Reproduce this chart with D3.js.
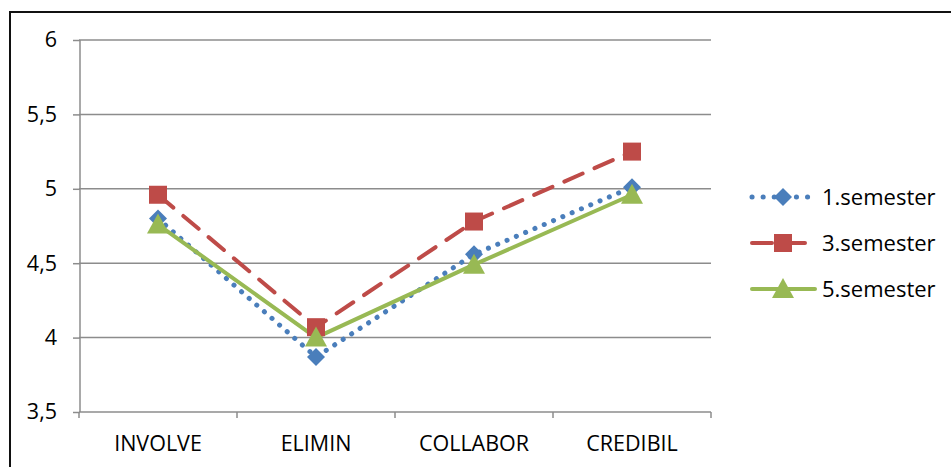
<!DOCTYPE html>
<html>
<head>
<meta charset="utf-8">
<script src="https://cdn.jsdelivr.net/npm/d3@7"></script>
<style>
  html, body { margin: 0; padding: 0; background: #fff; }
  svg { display: block; }
  text { font-family: "Open Sans", Lato, "Liberation Sans", sans-serif; fill: #000; }
</style>
</head>
<body>
<svg id="chart" width="951" height="467"></svg>
<script>
// Data
const categories = ["INVOLVE", "ELIMIN", "COLLABOR", "CREDIBIL"];
const sem1 = [4.80, 3.87, 4.56, 5.01];
const sem3 = [4.96, 4.07, 4.78, 5.25];
const sem5 = [4.76, 4.00, 4.49, 4.96];
const seriesNames = ["1.semester", "3.semester", "5.semester"];
const yTicks = [3.5, 4, 4.5, 5, 5.5, 6];

const series = [
  { name: seriesNames[0], values: sem1, color: "#4a7ebb", dash: "0.1 10", marker: "diamond" },
  { name: seriesNames[1], values: sem3, color: "#be4b48", dash: "20 13", marker: "square" },
  { name: seriesNames[2], values: sem5, color: "#98b954", dash: null, marker: "triangle" }
];

const FONT = "'Open Sans', Lato, sans-serif";
const FS = "21.5px";
const svg = d3.select("#chart");

// Outer frame
svg.append("rect")
  .attr("x", 10).attr("y", 12)
  .attr("width", 960).attr("height", 480)
  .attr("fill", "none").attr("stroke", "#111").attr("stroke-width", 2);

const plot = { left: 79, right: 711, top: 40, bottom: 412 };

const x = d3.scaleBand().domain(categories).range([plot.left, plot.right]).paddingInner(0).paddingOuter(0);
const y = d3.scaleLinear().domain([3.5, 6]).range([plot.bottom, plot.top]);
const cx = c => x(c) + x.bandwidth() / 2;

// Horizontal gridlines
svg.append("g").selectAll("line").data(yTicks.slice(1)).join("line")
  .attr("x1", plot.left).attr("x2", plot.right)
  .attr("y1", d => y(d)).attr("y2", d => y(d))
  .attr("stroke", "#8c8c8c").attr("stroke-width", 1.5);

// Y axis
const yAxis = d3.axisLeft(y).tickValues(yTicks).tickSize(7).tickPadding(16)
  .tickFormat(d => d3.format(".1~f")(d).replace(".", ","));
const gy = svg.append("g").attr("transform", `translate(${plot.left + 1},0)`).call(yAxis);
gy.select(".domain").attr("stroke", "#8c8c8c").attr("stroke-width", 1.5).attr("d", `M0,${plot.top}V${plot.bottom}`);
gy.selectAll(".tick line").attr("stroke", "#8c8c8c").attr("stroke-width", 1.5);
gy.selectAll(".tick text").style("font-size", FS).attr("fill", "#000").style("font-family", FONT);

// X axis
const xAxis = d3.axisBottom(x).tickSize(0).tickPadding(24);
const gx = svg.append("g").attr("transform", `translate(0,${plot.bottom})`).call(xAxis);
gx.select(".domain").attr("stroke", "#8c8c8c").attr("stroke-width", 1.5).attr("d", `M${plot.left},0H${plot.right}`);
gx.selectAll(".tick text").style("font-size", FS).attr("fill", "#000").style("font-family", FONT);
// Category boundary tick marks
const bounds = categories.map(c => x(c)).concat([plot.right]);
svg.append("g").selectAll("line").data(bounds).join("line")
  .attr("x1", d => d).attr("x2", d => d)
  .attr("y1", plot.bottom).attr("y2", plot.bottom + 6)
  .attr("stroke", "#8c8c8c").attr("stroke-width", 1.5);

// Marker shapes
function drawMarker(g, type, px, py, color) {
  if (type === "diamond") {
    g.append("path").attr("d", `M${px},${py - 9}L${px + 9},${py}L${px},${py + 9}L${px - 9},${py}Z`).attr("fill", color);
  } else if (type === "square") {
    g.append("rect").attr("x", px - 9).attr("y", py - 9).attr("width", 18).attr("height", 18).attr("fill", color);
  } else {
    g.append("path").attr("d", `M${px},${py - 11}L${px + 11},${py + 9}L${px - 11},${py + 9}Z`).attr("fill", color);
  }
}

const line = d3.line().x((d, i) => cx(categories[i])).y(d => y(d));

const marks = svg.append("g");
series.forEach(s => {
  const p = marks.append("path").datum(s.values)
    .attr("d", line).attr("fill", "none")
    .attr("stroke", s.color).attr("stroke-width", s.marker === "diamond" ? 5 : 4)
    .attr("stroke-linecap", "round").attr("stroke-linejoin", "round");
  if (s.dash) p.attr("stroke-dasharray", s.dash);
});
series.forEach(s => {
  s.values.forEach((v, i) => drawMarker(marks, s.marker, cx(categories[i]), y(v), s.color));
});

// Legend
const legend = svg.append("g");
series.forEach((s, i) => {
  const ly = 197 + i * 46;
  const l = legend.append("line")
    .attr("x1", 752).attr("x2", 815).attr("y1", ly).attr("y2", ly)
    .attr("stroke", s.color).attr("stroke-width", s.marker === "diamond" ? 5 : 4)
    .attr("stroke-linecap", "round");
  if (s.marker === "diamond") l.attr("stroke-dasharray", "0.1 11");
  if (s.marker === "square") l.attr("stroke-dasharray", "20 13");
  drawMarker(legend, s.marker, 783, ly, s.color);
  legend.append("text").attr("x", 822).attr("y", ly).attr("dy", "0.35em")
    .style("font-size", "22px").style("font-family", FONT).text(s.name);
});
</script>
</body>
</html>
